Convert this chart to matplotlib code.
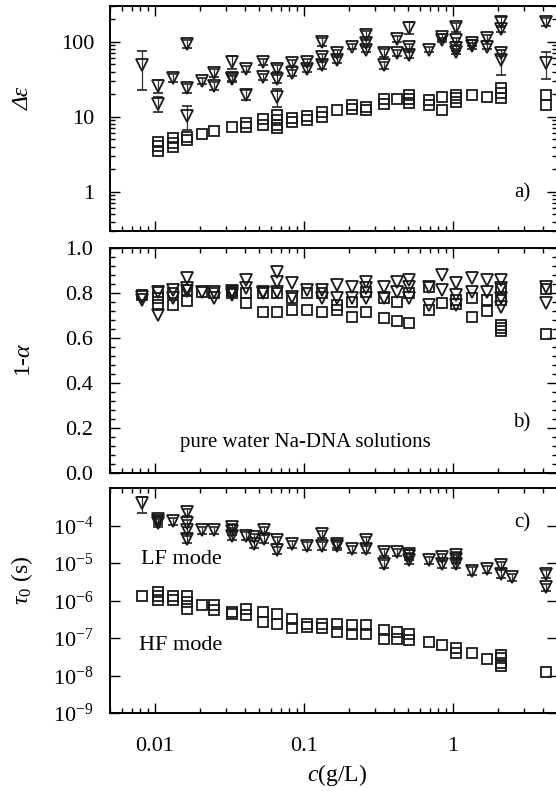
import numpy as np
import matplotlib.pyplot as plt
from matplotlib.ticker import LogLocator, MultipleLocator, FixedLocator, FuncFormatter, NullFormatter, LogFormatterMathtext

plt.rcParams['font.family'] = ['Liberation Serif', 'DejaVu Serif']
plt.rcParams['mathtext.fontset'] = 'custom'
plt.rcParams['mathtext.rm'] = 'Liberation Serif'
plt.rcParams['mathtext.it'] = 'Liberation Serif:italic'

# ---- panel a: dielectric increment
c_de_lf = [0.0082, 0.0105, 0.0105, 0.0132, 0.0164, 0.0164, 0.0164, 0.0207, 0.0249, 0.0249,
           0.033, 0.033, 0.033, 0.041, 0.041, 0.053, 0.053, 0.066, 0.066, 0.066,
           0.083, 0.083, 0.105, 0.105, 0.132, 0.132, 0.132, 0.166, 0.166, 0.21,
           0.26, 0.26, 0.26, 0.344, 0.344, 0.42, 0.42, 0.51, 0.51, 0.51,
           0.69, 0.84, 0.84, 1.05, 1.05, 1.05, 1.05, 1.34, 1.34, 1.69, 1.69,
           2.1, 2.1, 2.1, 2.1, 4.2, 4.2]
de_lf = [49, 26, 15, 33, 94, 24, 10.3, 30, 38.6, 26,
         54, 33, 32, 44, 19.6, 54, 34, 44, 32, 18.5,
         52, 38.6, 54, 44, 100, 63, 49, 71, 57.6, 86,
         124, 97, 78, 71, 49, 110, 71, 154, 86, 67,
         78, 117, 106, 158, 106, 83, 74, 97, 88, 113, 86,
         185, 149, 71, 57.6, 185, 52]
de_lf_err = [26, 5, 3.5, 4, 12, 3, 3.7, 3, 5, 3,
             10, 3, 3, 4, 3, 5, 3, 5, 4, 5,
             5, 4, 5, 4, 12, 5, 5, 6, 5, 7,
             14, 8, 6, 8, 5, 10, 6, 28, 8, 6,
             6, 10, 8, 22, 8, 7, 6, 8, 7, 10, 7,
             28, 12, 6, 21, 22, 20]

c_de_hf = [0.0105, 0.0105, 0.0105, 0.0132, 0.0132, 0.0132, 0.0164, 0.0164, 0.0207, 0.0249,
           0.033, 0.041, 0.041, 0.053, 0.053, 0.066, 0.066, 0.066, 0.066, 0.083, 0.083,
           0.105, 0.105, 0.132, 0.132, 0.166, 0.21, 0.21, 0.26, 0.26, 0.344, 0.344,
           0.42, 0.51, 0.51, 0.51, 0.69, 0.69, 0.84, 0.84, 1.05, 1.05, 1.05,
           1.34, 1.69, 2.1, 2.1, 2.1, 4.2, 4.2]
de_hf = [4.6, 4.1, 3.5, 5.25, 4.5, 4.0, 5.4, 4.9, 5.9, 6.5,
         7.4, 8.3, 7.4, 9.4, 7.8, 10.6, 9.1, 7.8, 7.1, 9.7, 8.6,
         10.3, 9.1, 11.7, 10.0, 12.4, 14.5, 12.8, 13.6, 12.4, 17.4, 14.9,
         17.4, 19.6, 17.4, 15.4, 16.9, 14.5, 18.5, 12.4, 19.6, 17.9, 15.8,
         19.6, 18.5, 24.4, 21, 17.9, 19.6, 14.5]

# ---- panel b: 1-alpha
c_al_lf = [0.0082, 0.0082, 0.0105, 0.0105, 0.0132, 0.0132, 0.0164, 0.0164, 0.0164, 0.0207,
           0.0249, 0.0249, 0.033, 0.033, 0.033, 0.041, 0.041, 0.053, 0.053,
           0.066, 0.066, 0.066, 0.083, 0.083, 0.105, 0.132, 0.132, 0.166, 0.166,
           0.21, 0.21, 0.26, 0.26, 0.26, 0.344, 0.344, 0.42, 0.42, 0.51, 0.51, 0.51,
           0.69, 0.69, 0.84, 0.84, 1.05, 1.05, 1.05, 1.34, 1.34, 1.69, 1.69,
           2.1, 2.1, 2.1, 2.1, 4.2, 4.2]
al_lf = [0.782, 0.77, 0.804, 0.702, 0.813, 0.78, 0.867, 0.822, 0.81, 0.804,
         0.804, 0.778, 0.81, 0.80, 0.79, 0.858, 0.822, 0.804, 0.80,
         0.893, 0.849, 0.804, 0.844, 0.782, 0.813, 0.813, 0.778, 0.836, 0.78,
         0.827, 0.778, 0.849, 0.822, 0.778, 0.827, 0.78, 0.849, 0.804, 0.858, 0.827, 0.778,
         0.827, 0.747, 0.88, 0.813, 0.844, 0.791, 0.747, 0.867, 0.804, 0.858, 0.804,
         0.858, 0.822, 0.778, 0.738, 0.827, 0.756]

c_al_hf = [0.0082, 0.0105, 0.0105, 0.0105, 0.0132, 0.0132, 0.0164, 0.0164, 0.0207, 0.0249,
           0.033, 0.033, 0.041, 0.041, 0.053, 0.053, 0.066, 0.066, 0.083, 0.083,
           0.105, 0.105, 0.132, 0.132, 0.166, 0.166, 0.21, 0.21, 0.26, 0.26,
           0.344, 0.344, 0.42, 0.42, 0.51, 0.51, 0.69, 0.69, 0.84, 1.05, 1.05,
           1.34, 1.34, 1.69, 1.69, 2.1, 2.1, 2.1, 2.1, 2.1, 4.2, 4.2]
al_hf = [0.791, 0.804, 0.778, 0.747, 0.80, 0.747, 0.813, 0.764, 0.804, 0.80,
         0.81, 0.80, 0.80, 0.756, 0.80, 0.716, 0.80, 0.716, 0.778, 0.724,
         0.80, 0.724, 0.80, 0.716, 0.747, 0.724, 0.76, 0.693, 0.804, 0.716,
         0.778, 0.689, 0.76, 0.676, 0.80, 0.667, 0.827, 0.724, 0.756, 0.77, 0.75,
         0.778, 0.695, 0.77, 0.72, 0.82, 0.77, 0.66, 0.645, 0.63, 0.82, 0.62]

# ---- panel c: relaxation time
c_tau_lf = [0.0082, 0.0105, 0.0105, 0.0105, 0.0132, 0.0164, 0.0164, 0.0164, 0.0164, 0.0207,
            0.0249, 0.033, 0.033, 0.033, 0.041, 0.046, 0.046, 0.054, 0.054,
            0.066, 0.066, 0.083, 0.105, 0.132, 0.132, 0.166, 0.166, 0.21, 0.26, 0.26,
            0.344, 0.344, 0.42, 0.51, 0.51, 0.51, 0.69, 0.84, 0.84, 1.05, 1.05, 1.05,
            1.34, 1.69, 2.1, 2.1, 2.5, 4.2, 4.2]
tau_lf = [3.9e-4, 1.5e-4, 1.3e-4, 1.2e-4, 1.3e-4, 2.26e-4, 1.15e-4, 7.7e-5, 4.4e-5, 7.4e-5,
          7.7e-5, 9e-5, 7e-5, 5.4e-5, 5.4e-5, 5e-5, 3.2e-5, 7.4e-5, 4.5e-5,
          4e-5, 2.2e-5, 3.2e-5, 2.9e-5, 6e-5, 2.9e-5, 3.2e-5, 2.9e-5, 2.4e-5, 4e-5, 2.4e-5,
          1.95e-5, 9.6e-6, 1.95e-5, 1.77e-5, 1.5e-5, 1.17e-5, 1.17e-5, 1.44e-5, 9.6e-6,
          1.6e-5, 1.3e-5, 9.6e-6, 6.3e-6, 7e-6, 8.7e-6, 5.2e-6, 4.3e-6, 5.2e-6, 2.3e-6]

c_tau_hf = [0.0082, 0.0105, 0.0105, 0.0105, 0.0132, 0.0132, 0.0164, 0.0164, 0.0164, 0.0207,
            0.0249, 0.0249, 0.033, 0.033, 0.041, 0.041, 0.053, 0.053, 0.066, 0.066,
            0.083, 0.083, 0.105, 0.105, 0.132, 0.132, 0.166, 0.166, 0.21, 0.21,
            0.26, 0.26, 0.344, 0.344, 0.42, 0.42, 0.51, 0.51, 0.69, 0.84, 1.05, 1.05,
            1.34, 1.69, 2.1, 2.1, 2.1, 2.1, 4.2]
tau_hf = [1.29e-6, 1.68e-6, 1.29e-6, 1.01e-6, 1.29e-6, 1.01e-6, 1.29e-6, 9.1e-7, 6e-7, 7.4e-7,
          7.4e-7, 5.5e-7, 4.9e-7, 4.4e-7, 6e-7, 4e-7, 4.9e-7, 2.7e-7, 4.5e-7, 2.4e-7,
          3.3e-7, 1.9e-7, 2.4e-7, 2e-7, 2.4e-7, 1.8e-7, 2.4e-7, 1.45e-7, 2.2e-7, 1.3e-7,
          2.2e-7, 1.3e-7, 1.6e-7, 9.6e-8, 1.45e-7, 9.6e-8, 1.3e-7, 8.7e-8, 7.9e-8, 6.4e-8,
          5.3e-8, 3.9e-8, 3.9e-8, 2.7e-8, 3.5e-8, 2.9e-8, 2.2e-8, 1.8e-8, 1.26e-8]

W, H = 556, 791


def px(x, y):
    return x / W, 1 - y / H


fig = plt.figure(figsize=(W / 100, H / 100), dpi=100)
left, width, height = 110 / W, 447 / W, 225 / H
ax_a = fig.add_axes([left, 1 - 231 / H, width, height])
ax_b = fig.add_axes([left, 1 - 473 / H, width, height])
ax_c = fig.add_axes([left, 1 - 713 / H, width, height])

tri = dict(marker='v', ms=9, mfc='none', mec='#1a1a1a', mew=1.3, ls='none',
           ecolor='#333333', elinewidth=0.9, capsize=3.5, capthick=0.9)
tri_plain = {k: v for k, v in tri.items()
             if k not in ('ecolor', 'elinewidth', 'capsize', 'capthick')}
sq = dict(marker='s', ms=7.5, mfc='none', mec='#1a1a1a', mew=1.3, ls='none')

ax_a.errorbar(c_de_lf, de_lf, yerr=de_lf_err, **tri)
ax_a.plot(c_de_hf, de_hf, **sq)

ax_b.plot(c_al_hf, al_hf, **sq)
ax_b.plot(c_al_lf, al_lf, **tri_plain)

tau_lf_err = [0.22 * t for t in tau_lf]
tau_lf_err[0] = 1.8e-4
ax_c.errorbar(c_tau_lf, tau_lf, yerr=tau_lf_err, **tri)
ax_c.plot(c_tau_hf, tau_hf, **sq)

for ax in (ax_a, ax_b, ax_c):
    ax.set_xscale('log')
    ax.set_xlim(0.005, 5)
    ax.xaxis.set_major_locator(FixedLocator([0.01, 0.1, 1]))
    ax.xaxis.set_minor_locator(LogLocator(base=10, subs=np.arange(2, 10)))
    ax.xaxis.set_minor_formatter(NullFormatter())
    ax.tick_params(which='both', direction='in', top=True, right=True,
                   labelsize=16, width=1.0)
    ax.tick_params(which='major', length=7)
    ax.tick_params(which='minor', length=3.5)
    for s in ax.spines.values():
        s.set_linewidth(1.4)
    ax.tick_params(axis='x', labelbottom=False)

ax_a.set_yscale('log')
ax_a.set_ylim(0.3, 300)
ax_a.yaxis.set_major_locator(FixedLocator([1, 10, 100]))
ax_a.yaxis.set_major_formatter(FuncFormatter(lambda v, p: '%g' % v))
ax_a.yaxis.set_minor_locator(LogLocator(base=10, subs=np.arange(2, 10)))
ax_a.yaxis.set_minor_formatter(NullFormatter())
ax_a.tick_params(axis='y', pad=11)

ax_b.set_ylim(0, 1)
ax_b.yaxis.set_major_locator(MultipleLocator(0.2))
ax_b.yaxis.set_minor_locator(MultipleLocator(0.04))
ax_b.yaxis.set_major_formatter(FuncFormatter(lambda v, p: '%.1f' % v))
ax_b.tick_params(axis='y', pad=12)

ax_c.set_yscale('log')
ax_c.set_ylim(1e-9, 1e-3)
ax_c.yaxis.set_major_locator(FixedLocator([1e-9, 1e-8, 1e-7, 1e-6, 1e-5, 1e-4]))
ax_c.yaxis.set_major_formatter(LogFormatterMathtext())
ax_c.yaxis.set_minor_locator(LogLocator(base=10, subs=np.arange(2, 10)))
ax_c.yaxis.set_minor_formatter(NullFormatter())
ax_c.tick_params(axis='y', pad=12)
ax_c.tick_params(axis='x', labelbottom=True, pad=17)
ax_c.xaxis.set_major_formatter(FuncFormatter(lambda v, p: '%g' % v))

# axis titles
fig.text(*px(23, 98), 'Δε', rotation=90, ha='center', va='center', fontsize=17,
         fontstyle='italic')
fig.text(*px(25, 360), r'1-$\alpha$', rotation=90, ha='center', va='center', fontsize=17)
fig.text(*px(22, 580), r'$\tau_0$ (s)', rotation=90, ha='center', va='center', fontsize=17)
fig.text(*px(337, 775), r'$c$(g/L)', ha='center', va='center', fontsize=17)

# panel annotations
fig.text(*px(522, 193), 'a)', ha='center', va='center', fontsize=15)
fig.text(*px(522, 423), 'b)', ha='center', va='center', fontsize=15)
fig.text(*px(522, 523), 'c)', ha='center', va='center', fontsize=15)
fig.text(*px(305, 442), 'pure water Na-DNA solutions', ha='center', va='center', fontsize=15)
fig.text(*px(181, 560), 'LF mode', ha='center', va='center', fontsize=16)
fig.text(*px(181, 645), 'HF mode', ha='center', va='center', fontsize=16)

fig.savefig('out.png', dpi=100)
